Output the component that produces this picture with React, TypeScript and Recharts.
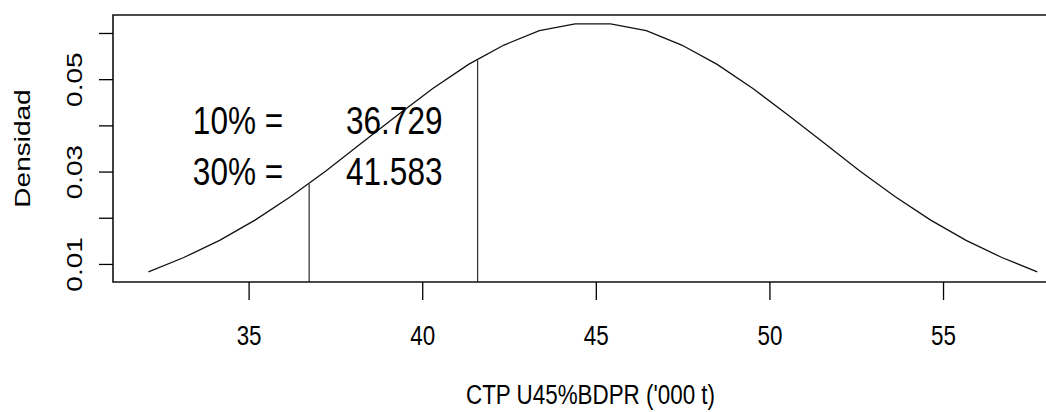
import { LineChart, Line, XAxis, YAxis, ReferenceLine, ReferenceArea, ReferenceDot } from 'recharts';

// density curve
const gridX = [
  32.1, 33.12, 34.15, 35.17, 36.2, 37.22, 38.24, 39.27, 40.29, 41.32, 42.34, 43.36, 44.39,
  45.41, 46.44, 47.46, 48.48, 49.51, 50.53, 51.56, 52.58, 53.6, 54.63, 55.65, 56.68, 57.7,
];
const density = [
  0.0084, 0.0115, 0.0152, 0.0196, 0.0247, 0.0303, 0.0363, 0.0423, 0.0481, 0.0533, 0.0575, 0.0606, 0.0621,
  0.0621, 0.0606, 0.0575, 0.0533, 0.0481, 0.0423, 0.0363, 0.0303, 0.0247, 0.0196, 0.0152, 0.0115, 0.0084,
];

const xTicks = [35, 40, 45, 50, 55];
const yTicks = [0.01, 0.02, 0.03, 0.04, 0.05, 0.06];
const yLabelled = [0.01, 0.03, 0.05];

const probs = [10, 30];
const quantiles = [36.729, 41.583];
const quantileHeights = [0.0274, 0.0542];
const annotRows = [0.0411, 0.03];
const annotLabelX = 34.68;
const annotValueX = 39.18;

const xDomain = [31.08, 58.7];
const yDomain = [0.0062, 0.064];

const xTitle = "CTP U45%BDPR ('000 t)";
const yTitle = 'Densidad';

const FONT = "'Liberation Sans', Arial, sans-serif";
const SX = 0.8;

const data = gridX.map((x, i) => ({ x, y: density[i] }));

function XTick({ x, y, payload }: any) {
  return (
    <text transform={`translate(${x},${y + 45}) scale(${SX},1)`} textAnchor="middle" fontSize={28} fontFamily={FONT} fill="#000">
      {payload.value}
    </text>
  );
}

function YTick({ x, y, payload }: any) {
  if (!yLabelled.includes(payload.value)) return <g />;
  return (
    <text transform={`translate(${x - 17},${y}) scale(${SX},1) rotate(-90)`} textAnchor="middle" fontSize={28} fontFamily={FONT} fill="#000">
      {payload.value.toFixed(2)}
    </text>
  );
}

function AnnotText({ cx, cy, text }: any) {
  return (
    <text transform={`translate(${cx},${cy + 13}) scale(0.83,1)`} textAnchor="middle" fontSize={38} fontFamily={FONT} fill="#000">
      {text}
    </text>
  );
}

export default function App() {
  return (
    <div style={{ position: 'absolute', left: 0, top: 0, width: 1046, height: 412, overflow: 'hidden', background: '#fff' }}>
      <LineChart width={1072} height={412} data={data} margin={{ top: 15, right: 0, bottom: 0, left: 0 }}>
        <XAxis
          dataKey="x"
          type="number"
          domain={xDomain}
          allowDataOverflow
          ticks={xTicks}
          height={130}
          tickSize={18}
          tickMargin={0}
          axisLine={false}
          tickLine={{ stroke: '#000', strokeWidth: 1.3 }}
          tick={<XTick />}
          label={{
            content: ({ viewBox }: any) => (
              <text
                transform={`translate(${(viewBox?.x ?? 113) + (viewBox?.width ?? 959) / 2 - 2},404) scale(${SX},1)`}
                textAnchor="middle"
                fontSize={28}
                fontFamily={FONT}
                fill="#000"
              >
                {xTitle}
              </text>
            ),
          }}
        />
        <YAxis
          type="number"
          domain={yDomain}
          allowDataOverflow
          ticks={yTicks}
          width={113}
          tickSize={14}
          tickMargin={0}
          axisLine={false}
          tickLine={{ stroke: '#000', strokeWidth: 1.3 }}
          tick={<YTick />}
          label={{
            content: ({ viewBox }: any) => (
              <text
                transform={`translate(30,${(viewBox?.y ?? 15) + (viewBox?.height ?? 267) / 2}) scale(${SX},1) rotate(-90)`}
                textAnchor="middle"
                fontSize={28}
                fontFamily={FONT}
                fill="#000"
              >
                {yTitle}
              </text>
            ),
          }}
        />
        <ReferenceArea x1={xDomain[0]} x2={xDomain[1]} y1={yDomain[0]} y2={yDomain[1]} fill="none" fillOpacity={0} stroke="#111" strokeWidth={1.6} />
        {quantiles.map((q, i) => (
          <ReferenceLine
            key={q}
            segment={[{ x: q, y: yDomain[0] }, { x: q, y: quantileHeights[i] }]}
            stroke="#000"
            strokeWidth={1}
          />
        ))}
        <Line type="linear" dataKey="y" stroke="#111" strokeWidth={1.3} dot={false} isAnimationActive={false} />
        {quantiles.map((q, i) => (
          <ReferenceDot key={'l' + q} x={annotLabelX} y={annotRows[i]} r={0} shape={(p: any) => <AnnotText {...p} text={`${probs[i]}% =`} />} />
        ))}
        {quantiles.map((q, i) => (
          <ReferenceDot key={'v' + q} x={annotValueX} y={annotRows[i]} r={0} shape={(p: any) => <AnnotText {...p} text={q.toFixed(3)} />} />
        ))}
      </LineChart>
    </div>
  );
}
